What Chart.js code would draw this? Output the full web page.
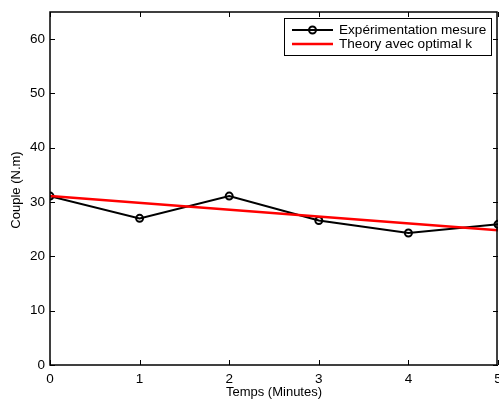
<!DOCTYPE html>
<html>
<head>
<meta charset="utf-8">
<script src="https://cdn.jsdelivr.net/npm/chart.js@4"></script>
<style>
  html, body { margin: 0; padding: 0; background: #fff; }
  #wrap { width: 499px; height: 404px; }
</style>
</head>
<body>
<div id="wrap"><canvas id="graphique" width="499" height="404"></canvas></div>
<script>
// Données
var temps = [0, 1, 2, 3, 4, 5];
var mesure = [31.1, 27.0, 31.1, 26.6, 24.3, 25.9];
var tempsTheorie = [0, 5];
var theorie = [31.1, 24.8];
var ticksX = [0, 1, 2, 3, 4, 5];
var ticksY = [0, 10, 20, 30, 40, 50, 60];

var police = 'Liberation Sans, Arial, Helvetica, sans-serif';

// Plugin pour le cadre, les graduations internes, titres et légende (style MATLAB)
var cadreMatlab = {
    id: 'cadreMatlab',
    afterDraw: function (chart) {
        var ctx = chart.ctx;
        var a = chart.chartArea;
        var sx = chart.scales.x, sy = chart.scales.y;
        ctx.save();
        ctx.strokeStyle = '#000';
        ctx.lineWidth = 1.5;
        ctx.strokeRect(a.left, a.top, a.right - a.left - 1, a.bottom - a.top);
        // graduations vers l'intérieur
        ctx.lineWidth = 1;
        ctx.beginPath();
        ticksX.forEach(function (v) {
            var px = Math.round(sx.getPixelForValue(v)) + 0.5;
            ctx.moveTo(px, a.bottom); ctx.lineTo(px, a.bottom - 5);
            ctx.moveTo(px, a.top); ctx.lineTo(px, a.top + 5);
        });
        ticksY.forEach(function (v) {
            var py = Math.round(sy.getPixelForValue(v)) + 0.5;
            ctx.moveTo(a.left, py); ctx.lineTo(a.left + 5, py);
            ctx.moveTo(a.right, py); ctx.lineTo(a.right - 5, py);
        });
        ctx.stroke();

        // titres des axes
        ctx.fillStyle = '#000';
        ctx.font = '13px ' + police;
        ctx.textAlign = 'center';
        ctx.textBaseline = 'alphabetic';
        ctx.fillText('Temps (Minutes)', 274, 396);
        ctx.save();
        ctx.translate(20, 190);
        ctx.rotate(-Math.PI / 2);
        ctx.fillText('Couple (N.m)', 0, 0);
        ctx.restore();

        // légende
        ctx.fillStyle = '#fff';
        ctx.fillRect(284, 18, 208, 38);
        ctx.lineWidth = 1;
        ctx.strokeRect(284.5, 18.5, 207, 37);
        ctx.lineWidth = 2;
        ctx.strokeStyle = '#000';
        ctx.beginPath(); ctx.moveTo(292, 30); ctx.lineTo(333, 30); ctx.stroke();
        ctx.beginPath(); ctx.arc(312.5, 30, 3.5, 0, Math.PI * 2); ctx.stroke();
        ctx.strokeStyle = '#ff0000';
        ctx.lineWidth = 2.5;
        ctx.beginPath(); ctx.moveTo(292, 44); ctx.lineTo(333, 44); ctx.stroke();
        ctx.fillStyle = '#000';
        ctx.font = '13.6px ' + police;
        ctx.textAlign = 'left';
        ctx.textBaseline = 'middle';
        ctx.fillText('Expérimentation mesure', 339, 30);
        ctx.fillText('Theory avec optimal k', 339, 44);
        ctx.restore();
    }
};

var ctx = document.getElementById('graphique').getContext('2d');

var graphique = new Chart(ctx, {
    type: 'line',
    data: {
        datasets: [{
            label: 'Expérimentation mesure',
            data: temps.map(function (t, i) { return { x: t, y: mesure[i] }; }),
            borderColor: '#000',
            borderWidth: 2,
            pointRadius: 3.5,
            pointBorderWidth: 2,
            pointBackgroundColor: 'rgba(0,0,0,0)',
            pointBorderColor: '#000',
            tension: 0,
            fill: false,
            order: 2
        }, {
            label: 'Theory avec optimal k',
            data: tempsTheorie.map(function (t, i) { return { x: t, y: theorie[i] }; }),
            borderColor: '#ff0000',
            borderWidth: 2.5,
            pointRadius: 0,
            tension: 0,
            fill: false,
            order: 1
        }]
    },
    options: {
        responsive: false,
        animation: false,
        layout: { autoPadding: false, padding: { top: 12, right: 1, left: 0, bottom: 0 } },
        plugins: { legend: { display: false }, tooltip: { enabled: false } },
        scales: {
            x: {
                type: 'linear',
                min: 0, max: 5,
                afterFit: function (s) { s.height = 39; s.paddingLeft = 0; s.paddingRight = 0; },
                afterBuildTicks: function (s) { s.ticks = ticksX.map(function (v) { return { value: v }; }); },
                grid: { display: false, drawTicks: false },
                border: { display: false },
                ticks: { color: '#000', padding: 6, font: { family: police, size: 13.5 }, maxRotation: 0 }
            },
            y: {
                type: 'linear',
                min: 0, max: 65,
                afterFit: function (s) { s.width = 50; s.paddingTop = 0; s.paddingBottom = 0; },
                afterBuildTicks: function (s) { s.ticks = ticksY.map(function (v) { return { value: v }; }); },
                grid: { display: false, drawTicks: false },
                border: { display: false },
                ticks: { color: '#000', padding: 5, font: { family: police, size: 13.5 } }
            }
        }
    },
    plugins: [cadreMatlab]
});
</script>
</body>
</html>
